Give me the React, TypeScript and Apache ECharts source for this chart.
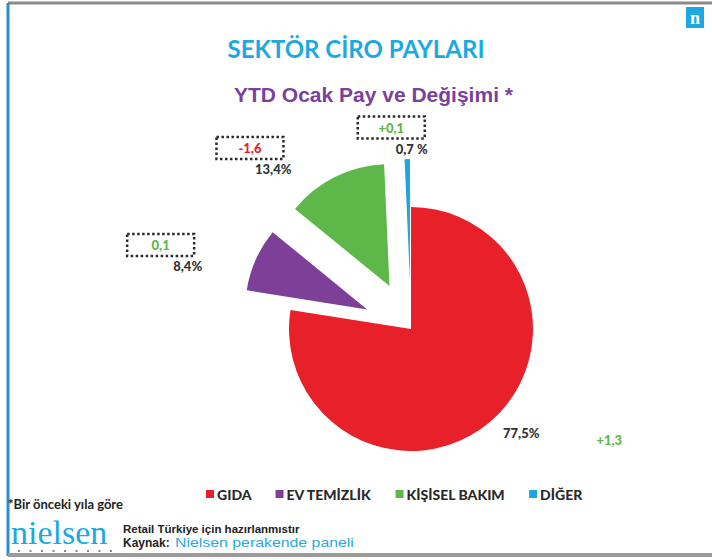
import React, { useEffect, useRef } from "react";
import * as echarts from "echarts";

const categories = ["GIDA", "EV TEMİZLİK", "KİŞİSEL BAKIM", "DİĞER"];
const shares = [77.5, 8.4, 13.4, 0.7];
const shareLabels = ["77,5%", "8,4%", "13,4%", "0,7 %"];
const changes = ["+1,3", "0,1", "-1,6", "+0,1"];
const changeColors = ["#5cb84a", "#5cb84a", "#e8202a", "#5cb84a"];
const colors = ["#e8202a", "#7d3f98", "#5db849", "#1fa5de"];
const exploded = [false, true, true, true];

export default function App() {
  const ref = useRef<HTMLDivElement>(null);
  useEffect(() => {
    if (!ref.current) return;
    const chart = echarts.init(ref.current, null, { renderer: "svg" });
    const lineLens = [
      { length: 12, length2: 0 },
      { length: 15, length2: 35 },
      { length: 23, length2: 28 },
      { length: 23, length2: 0 },
    ];
    const data = categories.map((name, i) => ({
      name,
      value: shares[i],
      selected: exploded[i],
      itemStyle: { color: colors[i] },
      label:
        i === 0
          ? { formatter: `{pct|${shareLabels[i]}}{chgR|${changes[i]}}` }
          : { formatter: `{box${i}|${changes[i]}}{${i === 3 ? "sp3" : "sp"}|}\n{pct|${shareLabels[i]}}` },
      labelLine: lineLens[i],
    }));
    const boxStyle = (i: number) => ({
      color: changeColors[i],
      fontFamily: "Lato",
      fontWeight: 900,
      fontSize: 13,
      borderType: "dotted",
      borderColor: "#2a2a2a",
      borderWidth: 2.5,
      width: 67,
      height: 22,
      align: "center",
      lineHeight: 22,
    });
    chart.setOption({
      animation: false,
      title: [
        {
          text: "SEKTÖR CİRO PAYLARI",
          left: "center",
          top: 31,
          textStyle: { fontFamily: "Lato", fontWeight: "bold", fontSize: 24, color: "#1ca9e1" },
        },
        {
          text: "YTD Ocak Pay ve Değişimi *",
          left: 229,
          top: 79,
          textStyle: { fontFamily: "Liberation Sans", fontWeight: "bold", fontSize: 21, color: "#7b3f9c" },
        },
      ],
      legend: {
        data: categories,
        left: 201,
        top: 482,
        icon: "rect",
        itemWidth: 8,
        itemHeight: 8,
        itemGap: 24,
        selectedMode: false,
        textStyle: { fontFamily: "Lato", fontWeight: 900, fontSize: 14, color: "#2a2a2a", padding: [0, 0, 0, -2] },
      },
      series: [
        {
          type: "pie",
          center: [411, 329],
          radius: 122,
          startAngle: 90,
          clockwise: true,
          selectedMode: "multiple",
          selectedOffset: 48,
          avoidLabelOverlap: false,
          emphasis: { disabled: true },
          label: {
            show: true,
            position: "outside",
            distanceToLabelLine: 5,
            rich: {
              pct: { fontFamily: "Lato", fontWeight: 900, fontSize: 13, color: "#333", padding: [4, 0, 0, 0] },
              chgR: { fontFamily: "Lato", fontWeight: 900, fontSize: 13, color: changeColors[0], padding: [18, 0, 0, 57] },
              sp: { width: 8 },
              sp3: { width: 3 },
              box1: boxStyle(1),
              box2: boxStyle(2),
              box3: boxStyle(3),
            },
          },
          labelLine: { show: false },
          labelLayout: (p: any) => (p.dataIndex === 3 ? { dx: 26 } : {}),
          data,
        },
      ],
      graphic: [
        { type: "line", shape: { x1: 8, y1: 3, x2: 712, y2: 3 }, style: { stroke: "#8a8a8a", lineWidth: 3 } },
        { type: "line", shape: { x1: 8, y1: 3, x2: 8, y2: 556 }, style: { stroke: "#2a8fd0", lineWidth: 3 } },
        { type: "line", shape: { x1: 8, y1: 555, x2: 712, y2: 555 }, style: { stroke: "#9a9a9a", lineWidth: 4 } },
        { type: "rect", shape: { x: 686, y: 7, width: 18, height: 21 }, style: { fill: "#1ba9e0" } },
        {
          type: "text",
          x: 695,
          y: 18,
          style: { text: "n", fill: "#fff", font: "bold 18px 'Liberation Serif'", align: "center", verticalAlign: "middle" },
        },
        {
          type: "text",
          x: 8,
          y: 504,
          style: { text: "*Bir önceki yıla göre", fill: "#222", font: "bold 13px Lato", verticalAlign: "middle" },
        },
        {
          type: "text",
          x: 11,
          y: 532,
          style: {
            text: "nielsen",
            fill: "#1ba9e0",
            font: "34px 'Liberation Serif'",
            verticalAlign: "middle",
            lineHeight: 24,
          },
        },
        {
          type: "line",
          shape: { x1: 18, y1: 551, x2: 114, y2: 551 },
          style: { stroke: "#8a8a8a", lineWidth: 2, lineDash: [2, 9.5] },
        },
        {
          type: "text",
          x: 123,
          y: 529,
          style: { text: "Retail Türkiye için hazırlanmıstır", fill: "#222", font: "bold 11.5px 'Liberation Sans'", verticalAlign: "middle" },
        },
        {
          type: "text",
          x: 123,
          y: 543,
          style: { text: "Kaynak:", fill: "#222", font: "bold 12px 'Liberation Sans'", verticalAlign: "middle" },
        },
        {
          type: "text",
          x: 175,
          y: 543,
          scaleX: 1.27,
          style: { text: "Nielsen perakende paneli", fill: "#2aa9e0", font: "12.5px 'Liberation Sans'", verticalAlign: "middle" },
        },
      ],
    });
    return () => chart.dispose();
  }, []);
  return (
    <div
      ref={ref}
      style={{ position: "absolute", left: 0, top: 0, width: 712, height: 560, background: "#fff" }}
    />
  );
}
